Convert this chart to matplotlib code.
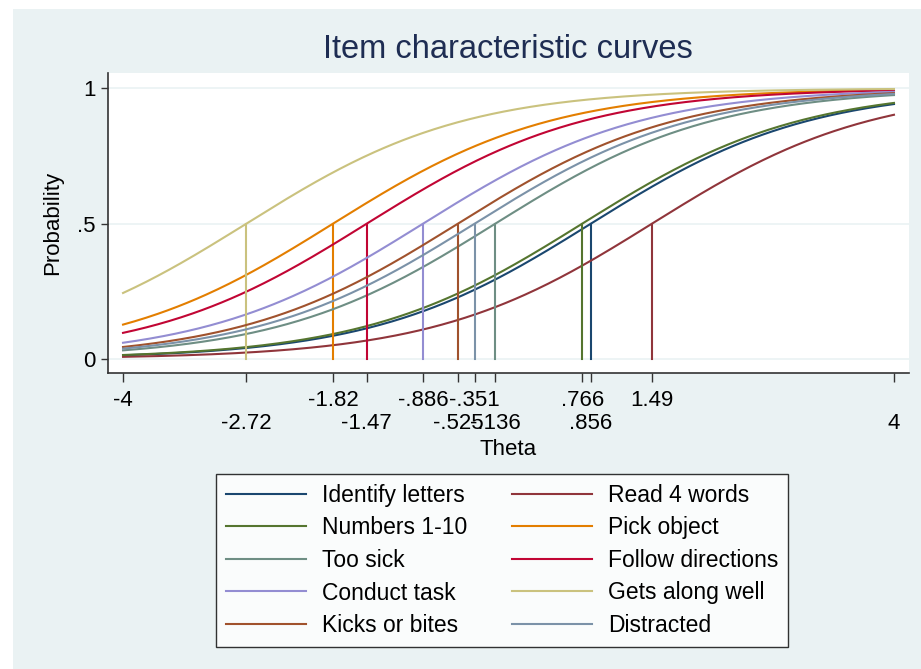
import numpy as np
import matplotlib
matplotlib.use("Agg")
import matplotlib.pyplot as plt
from matplotlib.patches import Rectangle

plt.rcParams['font.family'] = ['Liberation Sans', 'DejaVu Sans']

items = ["Identify letters", "Read 4 words", "Numbers 1-10", "Pick object", "Too sick",
         "Follow directions", "Conduct task", "Gets along well", "Kicks or bites", "Distracted"]
difficulty = [0.856, 1.49, 0.766, -1.82, -0.136, -1.47, -0.886, -2.72, -0.525, -0.351]
discrimination = 0.885
colors = ["#1a476f", "#90353b", "#55752f", "#e37e00", "#6e8e84",
          "#c10534", "#938dd2", "#cac27e", "#a0522d", "#7b92a8"]

row1_ticks = [-4, -1.82, -0.886, -0.351, 0.766, 1.49]
row1_labels = ["-4", "-1.82", "-.886", "-.351", ".766", "1.49"]
row2_ticks = [-2.72, -1.47, -0.525, -0.136, 0.856, 4]
row2_labels = ["-2.72", "-1.47", "-.525", "-.136", ".856", "4"]
y_ticks = [0, 0.5, 1]
y_labels = ["0", ".5", "1"]

W, H = 921, 669
fig = plt.figure(figsize=(W / 100, H / 100), dpi=100, facecolor="white")
fig.patches.append(Rectangle((13 / W, 0), 1, (H - 9) / H, transform=fig.transFigure,
                             facecolor="#eaf2f3", edgecolor="none", zorder=-10))

ax = fig.add_axes([108 / W, 1 - 373 / H, (909 - 108) / W, (373 - 73) / H])
ax.set_facecolor("white")
theta = np.linspace(-4, 4, 400)
handles = []
for name, b, c in zip(items, difficulty, colors):
    p = 1 / (1 + np.exp(-discrimination * (theta - b)))
    ln, = ax.plot(theta, p, color=c, lw=1.5, label=name, zorder=3)
    ax.plot([b, b], [0, 0.5], color=c, lw=1.5, zorder=3)
    handles.append(ln)

ax.set_xlim(-4.156, 4.156)
ax.set_ylim(-0.052, 1.0565)
for yv in y_ticks:
    ax.axhline(yv, color="#eaf2f3", lw=1.2, zorder=1)

for s in ["top", "right"]:
    ax.spines[s].set_visible(False)
for s in ["left", "bottom"]:
    ax.spines[s].set_color("#333333")
    ax.spines[s].set_linewidth(1.2)

ax.set_yticks(y_ticks, y_labels)
ax.set_xticks(row1_ticks, row1_labels)
ax.set_xticks(row2_ticks, row2_labels, minor=True)
ax.tick_params(axis="both", which="both", labelsize=16, width=1, color="#333333")
ax.tick_params(axis="x", which="both", length=6.5)
ax.tick_params(axis="y", length=5, pad=4)
ax.tick_params(axis="x", which="major", pad=6)
ax.tick_params(axis="x", which="minor", pad=22.5)

ax.set_xlabel("Theta", fontsize=16, labelpad=3.5)
ax.set_ylabel("Probability", fontsize=16, labelpad=10)
fig.text(508 / W, 1 - 50 / H, "Item characteristic curves", fontsize=23.5,
         color="#1e2d53", ha="center", va="center")

order = [0, 2, 4, 6, 8, 1, 3, 5, 7, 9]
leg = fig.legend([handles[i] for i in order], [items[i] for i in order], ncol=2,
                 loc="upper left", bbox_to_anchor=(216 / W, 1 - 474 / H),
                 fontsize=16.5, frameon=True, fancybox=False, edgecolor="black",
                 handlelength=3.5, handletextpad=0.7, columnspacing=1.95,
                 labelspacing=0.42, borderpad=0.42, borderaxespad=0)
leg.get_frame().set_linewidth(1.0)

fig.savefig("out.png", dpi=100, facecolor=fig.get_facecolor())
